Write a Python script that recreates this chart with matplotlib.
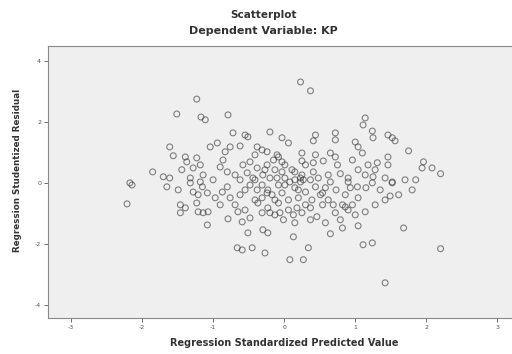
import numpy as np
import matplotlib
matplotlib.use("Agg")
import matplotlib.pyplot as plt

# standardized predicted value (x) and studentized residual (y)
pred = [-1.23, -1.51, -1.17, -1.11, -0.79, -0.72, -0.55, -0.51, -0.20, -1.61,
        -1.56, -1.04, -0.94, -0.76, -0.62, -0.83, -0.38, -0.31, -0.41, -0.24,
        -0.10, -1.39, -1.37, -1.23, -1.18, -1.28, -1.44, -1.85, -1.70, -1.61,
        -2.17, -0.86, -0.90, -0.80, -0.69, -0.58, -0.48, -0.52, -0.38, -0.24,
        -0.15, -1.14, -1.32, -1.00, -1.18, -0.62, -0.44, -0.30, -0.10,
        -2.14, -2.21, -1.65, -1.49, -1.32, -1.28, -1.15, -1.08, -1.21, -1.46,
        -1.39, -1.46, -1.23, -1.21, -1.14, -1.07, -1.08, -0.90, -0.80, -0.76,
        -0.65, -0.79, -0.59, -0.51, -0.37, -0.31, -0.20, -0.30, -0.23, -0.66,
        -0.59, -0.45, -0.27, -0.38, -0.24, -0.13, -0.48,
        0.08, 0.27,
        0.34, 0.13, 0.65, 0.82, 1.04, 1.11, 1.24, 1.68, 2.20, 1.42,
        1.49, 1.61, 1.03, -0.06, 0.13, 0.15, 0.37, 0.46, 0.58, 0.72,
        0.79, 0.86, 0.90, 1.00, 0.96, 0.82, 0.69, 0.62, 0.54, 0.39,
        0.30, 0.20, 0.06, -0.03, 0.01, 0.15, 0.30, 0.44, 0.54, -0.08,
        1.52, 0.90,
        0.23, 0.37, 1.14, 1.11, 1.24, 1.25, 1.46, 1.52, 1.56, 1.75,
        1.96, 1.94, 2.08, 2.20, 1.46, 1.46, 1.31, 1.18, 1.28, 1.25,
        1.42, 1.52, 1.00, 1.04, 1.10, 0.96, 0.72, 0.72, 0.65, 0.72,
        0.75, 0.44, 0.41, 0.44, 0.25, 0.25, 0.55, 0.41, -0.03, 0.06,
        -0.08, -0.03, 0.15, 0.25, -0.03, 0.41, 0.62, 0.79, 0.90, 1.14,
        1.04, 0.48, 0.23, 0.15,
        -0.41, -0.31, -0.23, -0.17, -0.08, 0.01, 0.08, 0.20, -0.20, -0.27,
        -0.13, 0.01, 0.11, 0.30, 0.37, -0.55, -0.62, -0.41, -0.31, -0.87,
        -0.97, -0.69, -0.55, -0.48, -0.23, -0.13, -0.01, 0.06, 0.18, 0.25,
        0.37, 0.51, 0.58, 0.65, 0.73, 0.86, 0.93, 1.04, 1.15, 1.24,
        1.35, 1.42, 1.28, 1.14, 1.70, 1.85, 1.80, 0.23, 0.27]

resid = [2.75, 2.26, 2.16, 2.07, 2.23, 1.64, 1.57, 1.51, 1.67, 1.18,
         0.89, 1.18, 1.31, 1.18, 1.21, 1.02, 1.18, 1.08, 0.92, 1.02,
         0.92, 0.85, 0.69, 0.82, 0.59, 0.49, 0.43, 0.36, 0.20, 0.16,
         0.00, 0.75, 0.52, 0.36, 0.26, 0.59, 0.69, 0.33, 0.49, 0.59,
         0.75, 0.26, 0.16, 0.10, 0.03, 0.10, 0.16, 0.26, 0.16,
         -0.07, -0.69, -0.13, -0.23, 0.00, -0.30, -0.13, -0.33, -0.39, -0.72,
         -0.82, -0.98, -0.66, -0.95, -0.98, -0.95, -1.38, -0.72, -0.13, -0.49,
         -0.95, -1.18, -1.28, -1.64, -0.66, -0.98, -0.98, -1.54, -1.64, -2.13,
         -2.20, -2.13, -2.30, -0.23, -0.33, -0.56, -0.07,
         -2.52, -2.52,
         -2.13, -1.77, -1.67, -1.48, -1.41, -2.03, -1.97, -1.48, -2.16, -3.28,
         -0.43, -0.39, -0.13, -0.98, -1.05, -1.31, -1.21, -1.11, -1.31, -0.98,
         -1.21, -0.79, -0.89, -1.05, -0.72, -0.72, -0.72, -0.56, -0.72, -0.56,
         -0.72, -0.49, -0.56, -0.33, -0.07, -0.16, -0.30, -0.13, -0.33, -0.66,
         0.00, 0.03,
         3.31, 3.02, 2.13, 1.90, 1.70, 1.48, 1.57, 1.48, 1.38, 1.05,
         0.69, 0.49, 0.49, 0.30, 0.85, 0.59, 0.66, 0.59, 0.43, 0.20,
         0.16, 0.03, 1.34, 1.18, 0.98, 0.75, 1.64, 1.41, 0.98, 0.85,
         0.59, 1.57, 1.38, 0.92, 0.98, 0.72, 0.72, 0.66, 1.48, 1.31,
         0.85, 0.69, 0.36, 0.26, 0.36, 0.36, 0.26, 0.30, 0.16, 0.26,
         0.43, 0.16, 0.03, 0.10,
         0.10, -0.07, -0.23, -0.39, -0.07, 0.16, 0.03, -0.23, 0.16, 0.43,
         0.43, 0.59, 0.43, 0.59, 0.10, -0.23, -0.39, -0.56, -0.49, -0.30,
         -0.49, -0.72, -0.89, -1.15, -0.82, -1.05, -1.21, -0.89, -0.82, -0.98,
         -0.82, -0.39, -0.16, 0.03, -0.23, -0.39, -0.16, -0.49, -0.16, 0.00,
         -0.23, -0.56, -0.72, -0.95, 0.10, 0.10, -0.23, 0.16, 0.10]

xticks = [-3, -2, -1, 0, 1, 2, 3]
yticks = [-4, -2, 0, 2, 4]

fig = plt.figure(figsize=(5.12, 3.54), dpi=100)
ax = fig.add_axes([0.094, 0.102, 0.922, 0.768])
ax.set_facecolor('#efefef')

ax.scatter(pred, resid, s=18, facecolors='none', edgecolors='#333333',
           linewidths=0.8, alpha=0.6)

ax.set_xlim(-3.32, 3.32)
ax.set_ylim(-4.43, 4.49)
ax.set_xticks(xticks)
ax.set_yticks(yticks)
ax.set_xticklabels([str(t) for t in xticks])
ax.set_yticklabels([str(t) for t in yticks])
ax.tick_params(labelsize=4.5, colors='#555555', length=3, width=0.6, pad=2)
for s in ax.spines.values():
    s.set_color('#888888')
    s.set_linewidth(0.8)

fig.text(0.514, 0.958, 'Scatterplot', ha='center', va='center',
         fontsize=7.5, fontweight='bold', color='#333333')
fig.text(0.514, 0.912, 'Dependent Variable: KP', ha='center', va='center',
         fontsize=8, fontweight='bold', color='#333333')
fig.text(0.556, 0.031, 'Regression Standardized Predicted Value', ha='center',
         va='center', fontsize=7, fontweight='bold', color='#333333')
fig.text(0.035, 0.52, 'Regression Studentized Residual', ha='center',
         va='center', rotation=90, fontsize=6.3, fontweight='bold', color='#333333')

fig.savefig('out.png', dpi=100)
